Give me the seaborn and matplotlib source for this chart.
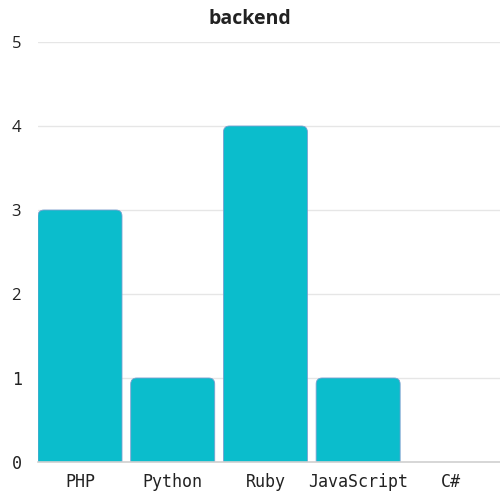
import numpy as np
import pandas as pd
import seaborn as sns
import matplotlib.pyplot as plt
from matplotlib.patches import FancyBboxPatch

languages = ['PHP', 'Python', 'Ruby', 'JavaScript', 'C#']
counts = [3, 1, 4, 1, 0]
title = 'backend'

df = pd.DataFrame({'language': languages, 'count': counts})

sns.set_style('white')
fig = plt.figure(figsize=(5, 5), dpi=100)
ax = fig.add_axes([0.076, 0.076, 0.924, 0.84])

sns.barplot(data=df, x='language', y='count', color='#0bbdcc', width=0.906,
            saturation=1, ax=ax)

# swap the plain bars for ones with rounded tops
rx = 0.065
ry = 0.072
for p in list(ax.patches):
    x0, w, h = p.get_x(), p.get_width(), p.get_height()
    p.remove()
    if h <= 0:
        continue
    box = FancyBboxPatch((x0, -0.3), w, h + 0.3,
                         boxstyle='round,pad=0,rounding_size=%f' % rx,
                         mutation_aspect=ry / rx,
                         facecolor='#0bbdcc', edgecolor='#7a9fd0', linewidth=0.6)
    ax.add_patch(box)

ax.set_xlim(-0.453, 4.53)
ax.set_ylim(0, 5)
ax.set_yticks([0, 1, 2, 3, 4, 5])
ax.yaxis.grid(True, color='#e6e6e6', linewidth=1)
ax.set_axisbelow(True)
for s in ['top', 'right', 'left']:
    ax.spines[s].set_visible(False)
ax.spines['bottom'].set_color('#d0d0d0')
ax.spines['bottom'].set_linewidth(1.2)
ax.tick_params(axis='both', length=0, labelsize=12, colors='#222222')
ax.tick_params(axis='y', pad=19)
ax.tick_params(axis='x', pad=8)
ax.set_xlabel('')
ax.set_ylabel('')

for lab in ax.get_xticklabels():
    lab.set_family('DejaVu Sans Mono')
    lab.set_fontstretch('condensed')
for lab in ax.get_yticklabels():
    if lab.get_text() in ('0', '1'):
        lab.set_family('DejaVu Sans Mono')
    else:
        lab.set_family('Open Sans')
    lab.set_horizontalalignment('left')

fig.text(0.5, 0.963, title, ha='center', va='center', fontsize=14,
         fontweight='bold', family='Open Sans', color='#222222')

fig.savefig('out.png', dpi=100)
